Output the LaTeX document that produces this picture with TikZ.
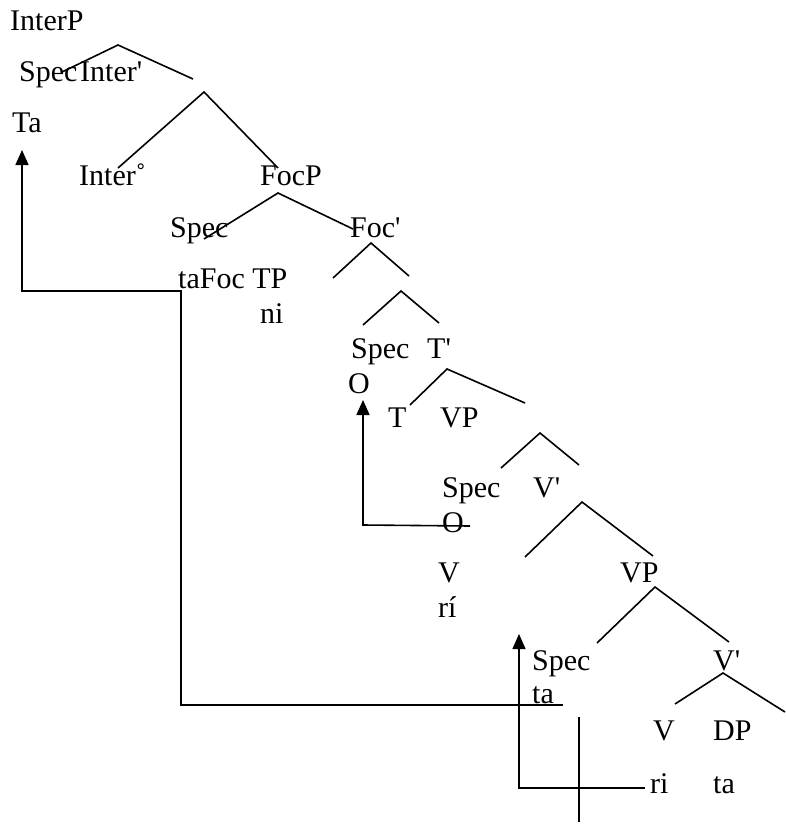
\documentclass[tikz,border=0pt]{standalone}
\usepackage{fontspec}
\setmainfont{Liberation Serif}
\usetikzlibrary{arrows.meta}
\begin{document}
\begin{tikzpicture}[x=1pt,y=-1pt,
  lbl/.style={anchor=base west,inner sep=0pt,font=\fontsize{30}{34}\selectfont},
  br/.style={line width=1.6pt},
  mv/.style={line width=1.6pt,line join=miter},
  tipped/.style={-{Triangle[width=13pt,length=15pt]}}]
\useasboundingbox (0,0) rectangle (785,825);
% labels
\node[lbl] (interP) at (10,30) {InterP};
\node[lbl] (spec1) at (19,81) {Spec};
\node[lbl] (interbar) at (80,81) {Inter\textquotesingle};
\node[lbl] (Ta) at (12,132) {Ta};
\node[lbl] (inter0) at (79,185) {Inter˚};
\node[lbl] (focP) at (260,185) {FocP};
\node[lbl] (spec2) at (170,237) {Spec};
\node[lbl] (focbar) at (350,237) {Foc\textquotesingle};
\node[lbl] (tafoc) at (178,288) {taFoc TP};
\node[lbl] (ni) at (260,323) {ni};
\node[lbl] (spec3) at (351,358) {Spec};
\node[lbl] (tbar) at (427,358) {T\textquotesingle};
\node[lbl] (O1) at (348,393) {O};
\node[lbl] (T) at (388,427) {T};
\node[lbl] (VP1) at (440,427) {VP};
\node[lbl] (spec4) at (442,497) {Spec};
\node[lbl] (vbar1) at (533,497) {V\textquotesingle};
\node[lbl] (O2) at (442,532) {O};
\node[lbl] (V1) at (438,582) {V};
\node[lbl] (ri1) at (438,617) {rí};
\node[lbl] (VP2) at (620,582) {VP};
\node[lbl] (spec5) at (532,670) {Spec};
\node[lbl] (ta1) at (532,703) {ta};
\node[lbl] (vbar2) at (713,670) {V\textquotesingle};
\node[lbl] (V2) at (653,740) {V};
\node[lbl] (DP) at (713,740) {DP};
\node[lbl] (ri2) at (650,793) {ri};
\node[lbl] (ta2) at (713,793) {ta};
% branch points
\coordinate (a0) at (118,45);  \coordinate (a1) at (62,72);   \coordinate (a2) at (193,79);
\coordinate (b0) at (204,92);  \coordinate (b1) at (118,168); \coordinate (b2) at (278,168);
\coordinate (c0) at (278,193); \coordinate (c1) at (204,239); \coordinate (c2) at (353,229);
\coordinate (d0) at (371,243); \coordinate (d1) at (333,278); \coordinate (d2) at (409,276);
\coordinate (e0) at (401,291); \coordinate (e1) at (363,325); \coordinate (e2) at (439,323);
\coordinate (f0) at (447,369); \coordinate (f1) at (410,405); \coordinate (f2) at (525,403);
\coordinate (g0) at (540,433); \coordinate (g1) at (501,468); \coordinate (g2) at (579,465);
\coordinate (h0) at (582,502); \coordinate (h1) at (525,557); \coordinate (h2) at (653,556);
\coordinate (i0) at (655,587); \coordinate (i1) at (597,643); \coordinate (i2) at (729,642);
\coordinate (j0) at (723,673); \coordinate (j1) at (675,704); \coordinate (j2) at (785,712);
\foreach \p in {a,b,c,d,e,f,g,h,i,j}{
  \draw[br] (\p1) -- (\p0) -- (\p2);
}
% movement lines
\coordinate (m1a) at (563,705); \coordinate (m1b) at (181,705);
\coordinate (m1c) at (181,291); \coordinate (m1d) at (22,291);
\coordinate (m1e) at (22,150);
\draw[mv,tipped] (m1a) -- (m1b) -- (m1c) -- (m1d) -- (m1e);
\coordinate (m2a) at (470,526); \coordinate (m2b) at (363,525);
\coordinate (m2c) at (363,400);
\draw[mv,tipped] (m2a) -- (m2b) -- (m2c);
\coordinate (m3a) at (645,788); \coordinate (m3b) at (519,788);
\coordinate (m3c) at (519,634);
\draw[mv,tipped] (m3a) -- (m3b) -- (m3c);
\coordinate (m4a) at (579,717); \coordinate (m4b) at (579,822);
\draw[mv] (m4a) -- (m4b);
\end{tikzpicture}
\end{document}
